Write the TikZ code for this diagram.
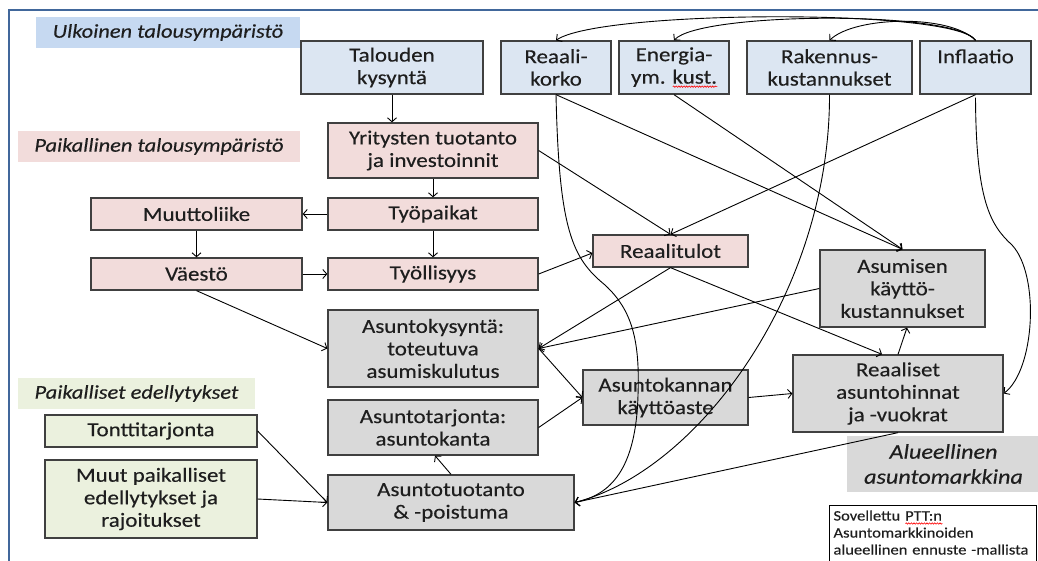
\documentclass[tikz,border=0pt]{standalone}
\usepackage{fontspec}
\setmainfont{Carlito}[FakeStretch=1.15,FakeBold=0.3]
\usetikzlibrary{arrows.meta,decorations.pathmorphing}
\newlength\wavelen
\newcommand\redwave[1]{\settowidth\wavelen{#1}\rlap{\tikz[baseline=0pt]\draw[red, line width=0.6pt, decorate, decoration={snake,amplitude=0.7pt,segment length=2.6pt}] (0pt,-3pt) -- (\wavelen,-3pt);}#1}
\definecolor{bluebox}{HTML}{DCE6F2}
\definecolor{bluelab}{HTML}{C6D9F1}
\definecolor{pinkbox}{HTML}{F2DCDB}
\definecolor{greenbox}{HTML}{EBF1DE}
\definecolor{graybox}{HTML}{D9D9D9}
\definecolor{edgecol}{HTML}{404040}
\definecolor{framecol}{HTML}{41679B}
\definecolor{txt}{HTML}{1E1E1E}
\tikzset{
 box/.style={draw=edgecol, line width=1.3pt, align=center, inner sep=0pt, text=txt, font=\fontsize{20}{22.5}\selectfont},
 bbox/.style={box, fill=bluebox},
 pbox/.style={box, fill=pinkbox},
 gbox/.style={box, fill=greenbox},
 grbox/.style={box, fill=graybox},
 lab/.style={inner sep=0pt, align=center, text=txt, font=\fontsize{19.5}{22}\selectfont\itshape},
 notebox/.style={draw=black, line width=1pt, fill=white, align=left, text=txt, font=\fontsize{14.4}{17}\selectfont},
 conn/.style={draw=black, line width=0.9pt, -{Straight Barb[length=4pt,width=9pt]}},
}
\begin{document}
\begin{tikzpicture}[x=1pt,y=-1pt]
\useasboundingbox (0,0) rectangle (1038,560);
\clip (0,0) rectangle (1038,560);
\fill[white] (0,0) rectangle (1038,560);
\draw[framecol, line width=2pt] (8.5,10) rectangle (1060,600);

% labels
\node[lab, fill=bluelab, minimum width=264pt, minimum height=31pt] (ulk) at (168,32.5) {Ulkoinen talousympäristö};
\node[lab, fill=pinkbox, minimum width=282pt, minimum height=31pt] (paik) at (159,146.5) {Paikallinen talousympäristö};
\node[lab, fill=greenbox, minimum width=237pt, minimum height=31pt] (ped) at (136.5,393.5) {Paikalliset edellytykset};
\node[lab, fill=graybox, minimum width=193pt, minimum height=56pt, font=\fontsize{21}{25}\selectfont\itshape] (alue) at (943.5,464) {Alueellinen\\asuntomarkkina};

% top row
\node[bbox, minimum width=182pt, minimum height=53pt] (talouden) at (392,67.5) {Talouden\\kysyntä};
\node[bbox, minimum width=110pt, minimum height=53pt] (reaali) at (556,67.5) {Reaali-\\korko};
\node[bbox, minimum width=110pt, minimum height=53pt] (energia) at (674,67.5) {Energia-\\ym. \redwave{kust.}};
\node[bbox, minimum width=165pt, minimum height=53pt] (rakennus) at (829.5,67.5) {Rakennus-\\kustannukset};
\node[bbox, minimum width=111pt, minimum height=53pt] (inflaatio) at (975.5,67.5) {Inflaatio\\\phantom{k}};

% local economy
\node[pbox, minimum width=210pt, minimum height=55pt] (yritys) at (433,150.5) {Yritysten tuotanto\\ja investoinnit};
\node[pbox, minimum width=211pt, minimum height=32pt] (muutto) at (196.5,214) {Muuttoliike};
\node[pbox, minimum width=210pt, minimum height=32pt] (tyopaikat) at (433,214) {Työpaikat};
\node[pbox, minimum width=211pt, minimum height=32pt] (vaesto) at (196.5,274) {Väestö};
\node[pbox, minimum width=210pt, minimum height=32pt] (tyoll) at (433,274) {Työllisyys};
\node[pbox, minimum width=155pt, minimum height=32pt] (tulot) at (670.5,251) {Reaalitulot};

% housing market
\node[grbox, minimum width=165pt, minimum height=77pt] (asumisen) at (902.5,288.5) {Asumisen\\käyttö-\\kustannukset};
\node[grbox, minimum width=210pt, minimum height=77pt] (kysynta) at (433,348.5) {Asuntokysyntä:\\toteutuva\\asumiskulutus};
\node[grbox, minimum width=210pt, minimum height=55pt] (tarjonta) at (433,427.5) {Asuntotarjonta:\\asuntokanta};
\node[grbox, minimum width=165pt, minimum height=55pt] (kanta) at (665.5,397.5) {Asuntokannan\\käyttöaste};
\node[grbox, minimum width=210pt, minimum height=77pt] (hinnat) at (898,393.5) {Reaaliset\\asuntohinnat\\ja -vuokrat};
\node[grbox, minimum width=246pt, minimum height=55pt] (tuotanto) at (451,502.5) {Asuntotuotanto\\\& -poistuma};

% local conditions
\node[gbox, minimum width=212pt, minimum height=32pt] (tontti) at (151,431) {Tonttitarjonta};
\node[gbox, minimum width=212pt, minimum height=78pt] (muut) at (151,499) {Muut paikalliset\\edellytykset ja\\rajoitukset};

% note
\node[notebox, anchor=north west, text width=199pt, inner xsep=4pt, inner ysep=5pt] (note) at (829,505) {Sovellettu \redwave{PTT:n}\\Asuntomarkkinoiden\\alueellinen ennuste -mallista\\[8pt]\mbox{}};

% connectors: local chain
\draw[conn] (talouden.south) -- (talouden.south |- yritys.north);
\draw[conn] (yritys.south) -- (tyopaikat.north);
\draw[conn] (tyopaikat.west) -- (muutto.east);
\draw[conn] (muutto.south) -- (vaesto.north);
\draw[conn] (tyopaikat.south) -- (tyoll.north);
\draw[conn] (vaesto.east) -- (tyoll.west);
\draw[conn] (vaesto.south) -- (kysynta.west);
\draw[conn] (tyoll.east) -- ([yshift=-2pt]tulot.west);
\draw[conn] (yritys.east) -- (tulot.north);
\draw[conn] (inflaatio.south) -- (tulot.north);
\draw[conn] (reaali.south) -- (asumisen.north);
\draw[conn] (energia.south) -- (asumisen.north);
\draw[conn] (tulot.south) -- (kysynta.east);
\draw[conn] (tulot.south) -- ([xshift=-16pt]hinnat.north);
\draw[conn] (asumisen.west) -- (kysynta.east);
\draw[conn] (hinnat.north) -- ([xshift=4.5pt]asumisen.south);
\draw[conn] (kysynta.east) -- (kanta.west);
\draw[conn] (tarjonta.east) -- (kanta.west);
\draw[conn] (kanta.east) -- (hinnat.west);
\draw[conn] (hinnat.south) -- (tuotanto.east);
\draw[conn] (tuotanto.north) -- ([xshift=2pt]tarjonta.south);
\draw[conn] (tontti.east) -- (tuotanto.west);
\draw[conn] (muut.east) -- (tuotanto.west);

% curves
\draw[conn] (reaali.south) .. controls (559,230) and (572,258) .. (605,285) .. controls (632,310) and (640,340) .. (638,395) .. controls (636,470) and (610,495) .. (tuotanto.east);
\draw[conn] (rakennus.south) .. controls (830,290) and (700,470) .. (tuotanto.east);
\draw[conn] ([yshift=-3pt]inflaatio.south) .. controls (976,200) and (990,225) .. (1012,245) .. controls (1040,275) and (1035,370) .. (hinnat.east);

% top arcs from Inflaatio
\draw[conn] (inflaatio.north) .. controls (955,8) and (600,10) .. (reaali.north);
\draw[conn] (inflaatio.north) .. controls (955,10) and (700,12) .. (energia.north);
\draw[conn] (inflaatio.north) .. controls (950,14) and (855,16) .. (rakennus.north);
\end{tikzpicture}
\end{document}
